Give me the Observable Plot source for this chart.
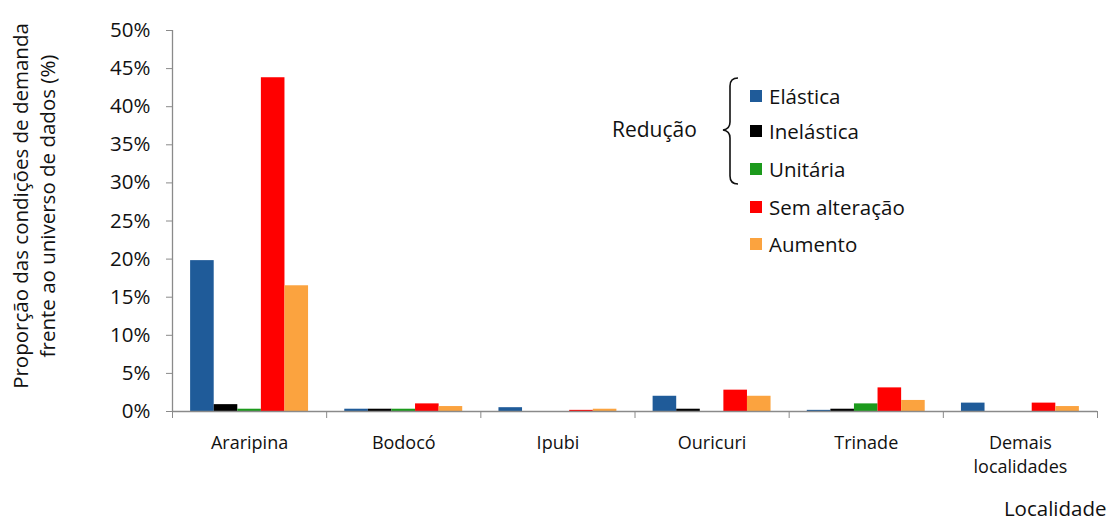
<!DOCTYPE html>
<html>
<head>
<meta charset="utf-8">
<script src="https://cdn.jsdelivr.net/npm/d3@7"></script>
<script src="https://cdn.jsdelivr.net/npm/@observablehq/plot@0.6"></script>
<style>
  html, body { margin: 0; padding: 0; background: #fff; }
  #wrap { position: relative; width: 1112px; height: 522px; font-family: "Open Sans", Lato, sans-serif; color: #111; }
  #legend { position: absolute; left: 0; top: 0; width: 0; height: 0; }
  .item { position: absolute; left: 750px; display: flex; align-items: center; font-size: 20.5px; line-height: 28px; white-space: nowrap; }
  .sw { width: 12px; height: 12px; margin-right: 7px; }
  #reducao { position: absolute; left: 612px; top: 115px; font-size: 21px; line-height: 28px; }
  #brace { position: absolute; left: 718px; top: 76px; }
</style>
</head>
<body>
<div id="wrap">
  <div id="chart"></div>
  <div id="legend"></div>
</div>
<script>
// Localities (x categories)
const localidades = ["Araripina", "Bodocó", "Ipubi", "Ouricuri", "Trinade", "Demais localidades"];

// Demand-condition series
const series = ["Elástica", "Inelástica", "Unitária", "Sem alteração", "Aumento"];
const colors = ["#1f5b99", "#000000", "#1c9a1c", "#ff0000", "#fba33f"];

// Share of each condition per locality (%)
const elastica     = [19.8, 0.3, 0.5, 2.0, 0.15, 1.1];
const inelastica   = [0.9, 0.3, 0.0, 0.3, 0.3, 0.0];
const unitaria     = [0.3, 0.3, 0.0, 0.0, 1.0, 0.0];
const semAlteracao = [43.8, 1.0, 0.15, 2.8, 3.1, 1.1];
const aumento      = [16.5, 0.65, 0.3, 2.0, 1.45, 0.65];

const yTicks = d3.range(0, 51, 5);

const valuesBySeries = [elastica, inelastica, unitaria, semAlteracao, aumento];

// Group layout: each locality occupies one unit on the x axis,
// with five adjacent bars centred in it.
const groupPad = 0.1175;
const barW = (1 - 2 * groupPad) / series.length;

const rows = [];
localidades.forEach((loc, i) => {
  series.forEach((s, j) => {
    const x1 = i + groupPad + j * barW;
    rows.push({loc, serie: s, value: valuesBySeries[j][i], x1, x2: x1 + barW});
  });
});

const centers = localidades.map((_, i) => i + 0.5);
const bounds = d3.range(0, localidades.length + 1);

const axisColor = "#8a8a8a";

const chart = Plot.plot({
  width: 1112,
  height: 522,
  marginLeft: 172,
  marginRight: 15,
  marginTop: 30,
  marginBottom: 111,
  style: {fontFamily: "'Open Sans', Lato, sans-serif", color: "#111", background: "#fff"},
  x: {type: "linear", domain: [0, localidades.length], axis: null},
  y: {domain: [0, 50], axis: null},
  color: {domain: series, range: colors},
  marks: [
    Plot.rectY(rows, {x1: "x1", x2: "x2", y: "value", fill: "serie"}),
    // axis lines
    Plot.ruleX([0], {y1: 0, y2: 50, stroke: axisColor, strokeWidth: 1.3}),
    Plot.ruleY([0], {stroke: axisColor, strokeWidth: 1.3}),
    // y ticks & labels
    Plot.axisY({ticks: yTicks, tickFormat: d => d + "%", tickSize: 6, tickPadding: 16, fontSize: 20.5, stroke: axisColor, color: "#111", label: null}),
    // group boundary ticks
    Plot.axisX({ticks: bounds, tickFormat: () => "", tickSize: 7, stroke: axisColor, label: null}),
    // locality labels
    Plot.axisX({ticks: centers, tickSize: 0, tickPadding: 21, fontSize: 18, lineHeight: 1.3,
      tickFormat: d => localidades[Math.floor(d)].replace(" ", "\n"), label: null}),
    // y axis title (two lines)
    Plot.text(["Proporção das condições de demanda\nfrente ao universo de dados (%)"], {
      frameAnchor: "left", textAnchor: "middle", rotate: -90, dx: -140, dy: -15, fontSize: 20.5, lineHeight: 1.32, fill: "#111"
    }),
    // x axis title
    Plot.text(["Localidade"], {frameAnchor: "bottom-right", textAnchor: "end", dx: 9, dy: 104, fontSize: 20.5, fill: "#111"})
  ]
});
document.getElementById("chart").append(chart);

// Legend, with the three reduction categories grouped under a brace
const legend = document.getElementById("legend");
const rowCenters = [96, 131, 169, 207, 244];
series.forEach((s, j) => {
  const item = document.createElement("div");
  item.className = "item";
  item.style.top = (rowCenters[j] - 14) + "px";
  const sw = document.createElement("span");
  sw.className = "sw";
  sw.style.background = colors[j];
  const label = document.createElement("span");
  label.textContent = s;
  item.append(sw, label);
  legend.append(item);
});
const red = document.createElement("div");
red.id = "reducao";
red.textContent = "Redução";
legend.append(red);
legend.insertAdjacentHTML("beforeend",
  `<svg id="brace" width="24" height="110" viewBox="0 0 24 110">
     <path d="M20,2 Q12,2 12,10 L12,46 Q12,53 5,54 Q12,55 12,62 L12,100 Q12,108 20,108" fill="none" stroke="#111" stroke-width="1.6"/>
   </svg>`);
</script>
</body>
</html>
